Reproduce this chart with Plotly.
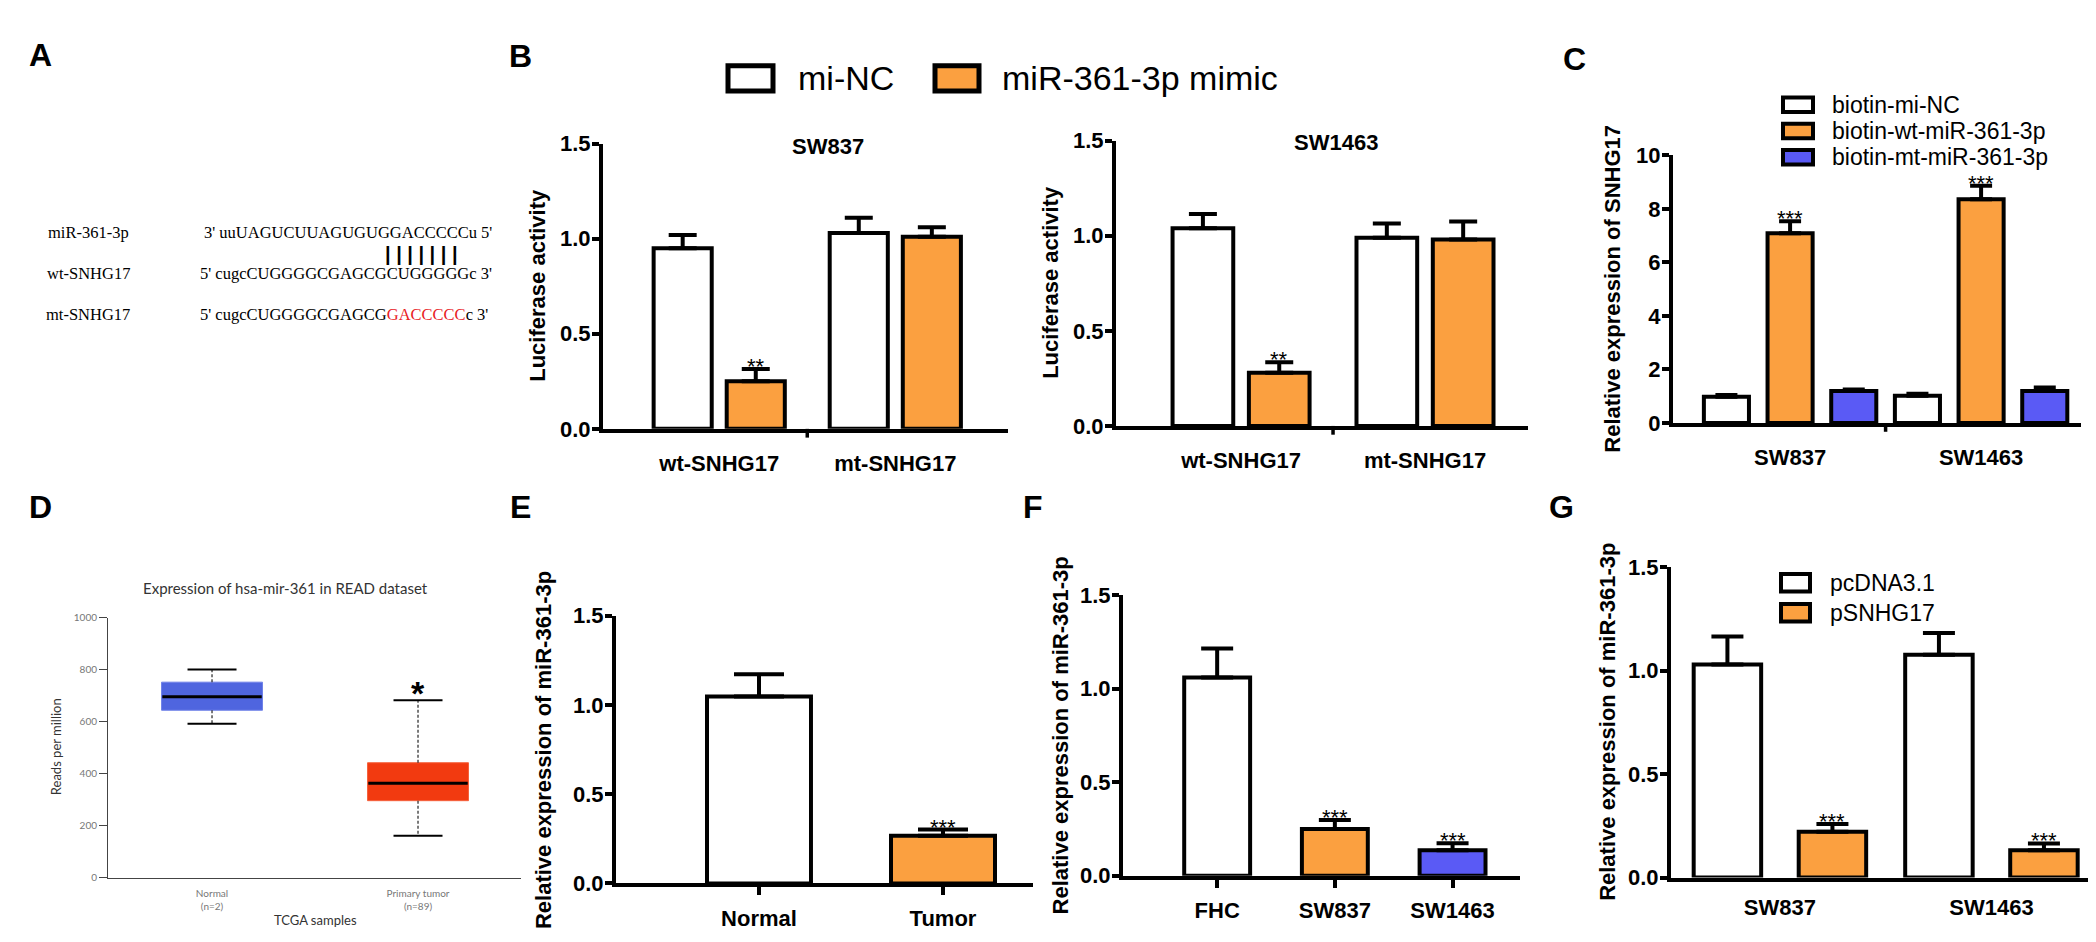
import plotly.graph_objects as go

W, H = 2096, 942
FONT = "Liberation Sans, Arial, sans-serif"
SERIF = "Liberation Serif, Times New Roman, serif"
WHITE = "#ffffff"
ORANGE = "#FBA040"
BLUE = "#5A5AF5"

# ---- data ----
# A: sequences
a_names = ["miR-361-3p", "wt-SNHG17", "mt-SNHG17"]
a_mir = "3' uuUAGUCUUAGUGUGGACCCCCu 5'"
a_wt = "5' cugcCUGGGGCGAGCGCUGGGGGc 3'"
a_mt_head, a_mt_mut, a_mt_tail = "5' cugcCUGGGGCGAGCG", "GACCCCC", "c 3'"

# B: luciferase
b_groups = ["wt-SNHG17", "mt-SNHG17"]
b_series = ["mi-NC", "miR-361-3p mimic"]
b837_nc = [0.95, 1.03]
b837_nc_err = [0.07, 0.08]
b837_mimic = [0.25, 1.01]
b837_mimic_err = [0.065, 0.05]
b837_mimic_sig = ["**", ""]
b1463_nc = [1.04, 0.99]
b1463_nc_err = [0.075, 0.075]
b1463_mimic = [0.28, 0.98]
b1463_mimic_err = [0.055, 0.095]
b1463_mimic_sig = ["**", ""]

# C: RNA pull-down
c_groups = ["SW837", "SW1463"]
c_series = ["biotin-mi-NC", "biotin-wt-miR-361-3p", "biotin-mt-miR-361-3p"]
c_nc = [0.98, 1.02]
c_nc_err = [0.07, 0.07]
c_wt = [7.09, 8.36]
c_wt_err = [0.45, 0.5]
c_wt_sig = ["***", "***"]
c_mt = [1.2, 1.2]
c_mt_err = [0.05, 0.13]

# D: TCGA box plot
d_groups = ["Normal", "Primary tumor"]
d_n = [2, 89]
d_min = [592, 161]
d_q1 = [644, 296]
d_med = [696, 363]
d_q3 = [752, 442]
d_max = [801, 682]
d_sig = ["", "*"]

# E
e_groups = ["Normal", "Tumor"]
e_mean = [1.047, 0.267]
e_err = [0.125, 0.035]
e_sig = ["", "***"]

# F
f_groups = ["FHC", "SW837", "SW1463"]
f_mean = [1.06, 0.25, 0.136]
f_err = [0.155, 0.048, 0.037]
f_sig = ["", "***", "***"]

# G
g_groups = ["SW837", "SW1463"]
g_series = ["pcDNA3.1", "pSNHG17"]
g_pc = [1.03, 1.077]
g_pc_err = [0.135, 0.105]
g_ps = [0.221, 0.132]
g_ps_err = [0.038, 0.033]
g_ps_sig = ["***", "***"]


def px(x):
    return x / W


def py(y):
    return 1 - y / H


fig = go.Figure()
annotations = []
shapes = []


def names(n):
    s = "" if n == 1 else str(n)
    return "x" + s, "y" + s


def prism_axes(n, xpix, ypix, xrange, yrange, yticks, xticks=False, fmt=".1f", standoff=12):
    xn, yn = names(n)
    fig.layout["xaxis" + xn[1:]] = dict(
        domain=[px(xpix[0]), px(xpix[1])], range=xrange, type="category",
        anchor=yn, showline=True, linecolor="black", linewidth=4,
        ticks="outside" if xticks else "", ticklen=8, tickwidth=3.5,
        tickcolor="black", ticklabelstandoff=standoff,
        tickfont=dict(family=FONT, size=22, color="black", weight="bold"),
        showgrid=False, zeroline=False, fixedrange=True)
    fig.layout["yaxis" + yn[1:]] = dict(
        domain=[py(ypix[1]), py(ypix[0])], range=yrange, anchor=xn,
        showline=True, linecolor="black", linewidth=4, tickvals=yticks,
        tickformat=fmt, ticks="outside", ticklen=7, tickwidth=3.5, tickcolor="black",
        ticklabelstandoff=-3,
        tickfont=dict(family=FONT, size=22, color="black", weight="bold"),
        showgrid=False, zeroline=False, fixedrange=True)


def mid_tick(n, xrange, ypix):
    xn, yn = names(n)
    frac = (0.5 - xrange[0]) / (xrange[1] - xrange[0])
    shapes.append(dict(type="line", xref=xn + " domain", yref=yn + " domain",
                       x0=frac, x1=frac, y0=0, y1=-9 / (ypix[1] - ypix[0]),
                       line=dict(color="black", width=3.5)))


def add_bars(n, groups, series, group_width, bar_width, cap):
    xn, yn = names(n)
    k = len(series)
    slot = group_width / k
    for j, (name, means, errs, color, sigs) in enumerate(series):
        off = -group_width / 2 + slot * j + (slot - bar_width) / 2
        fig.add_trace(go.Bar(
            x=groups, y=means, width=bar_width, offset=off, name=name,
            marker=dict(color=color, line=dict(color="black", width=4)),
            error_y=dict(type="data", array=errs, arrayminus=[0] * len(errs),
                         symmetric=False, color="black", thickness=4, width=cap),
            xaxis=xn, yaxis=yn, showlegend=False))
        for i, s in enumerate(sigs):
            if s:
                annotations.append(dict(
                    x=i + off + bar_width / 2, y=means[i] + errs[i], xref=xn, yref=yn,
                    text=s, showarrow=False, yanchor="bottom", yshift=-12,
                    font=dict(family=FONT, size=22, color="black")))


def legend(entries, bx0, bx1, rows, bh, tx, size, border):
    for (label, color), yc in zip(entries, rows):
        shapes.append(dict(type="rect", xref="paper", yref="paper",
                           x0=px(bx0), x1=px(bx1), y0=py(yc + bh / 2), y1=py(yc - bh / 2),
                           fillcolor=color, line=dict(color="black", width=border)))
        annotations.append(dict(x=px(tx), y=py(yc), xref="paper", yref="paper",
                                text=label, showarrow=False, xanchor="left", yanchor="middle",
                                font=dict(family=FONT, size=size, color="black")))


def text(x, y, s, size, bold=False, angle=0, family=FONT, color="black", xanchor="center"):
    annotations.append(dict(x=px(x), y=py(y), xref="paper", yref="paper", text=s,
                            showarrow=False, textangle=angle, xanchor=xanchor, yanchor="middle",
                            font=dict(family=family, size=size, color=color,
                                      weight="bold" if bold else "normal")))


# ---- A ----
for nm, y in zip(a_names, [218, 260, 303]):
    text(80, y, nm, 16.5, family=SERIF)
text(194, 218, a_mir, 16.5, family=SERIF, xanchor="left")
text(413, 240, "| | | | | | |", 20, bold=True)
text(190, 260, a_wt, 16.5, family=SERIF, xanchor="left")
text(190, 303, a_mt_head + "<span style='color:#E8211F'>" + a_mt_mut + "</span>" + a_mt_tail,
     16.5, family=SERIF, xanchor="left")

# ---- B ----
bl_range = [-0.66, 1.64]
prism_axes(1, (595, 1000), (127, 420), bl_range, [0, 1.5], [0, 0.5, 1.0, 1.5])
add_bars(1, b_groups, [
    (b_series[0], b837_nc, b837_nc_err, WHITE, ["", ""]),
    (b_series[1], b837_mimic, b837_mimic_err, ORANGE, b837_mimic_sig)], 0.83, 0.33, 14)
mid_tick(1, bl_range, (127, 420))
text(820, 130, "SW837", 22, bold=True)
text(530, 273, "Luciferase activity", 22, bold=True, angle=-90)

br_range = [-0.68, 1.56]
prism_axes(2, (1108, 1520), (124, 417), br_range, [0, 1.5], [0, 0.5, 1.0, 1.5])
add_bars(2, b_groups, [
    (b_series[0], b1463_nc, b1463_nc_err, WHITE, ["", ""]),
    (b_series[1], b1463_mimic, b1463_mimic_err, ORANGE, b1463_mimic_sig)], 0.83, 0.33, 14)
mid_tick(2, br_range, (124, 417))
text(1328, 126, "SW1463", 22, bold=True)
text(1043, 270, "Luciferase activity", 22, bold=True, angle=-90)
shapes.append(dict(type="rect", xref="paper", yref="paper", x0=px(720), x1=px(765),
                   y0=py(73), y1=py(47), fillcolor=WHITE, line=dict(color="black", width=5)))
shapes.append(dict(type="rect", xref="paper", yref="paper", x0=px(927), x1=px(971),
                   y0=py(73), y1=py(47), fillcolor=ORANGE, line=dict(color="black", width=5)))
text(788, 60, b_series[0], 34, xanchor="left")
text(992, 60, b_series[1], 34, xanchor="left")

# ---- C ----
c_range = [-0.613, 1.523]
prism_axes(3, (1665, 2073), (139, 414), c_range, [0, 10], [0, 2, 4, 6, 8, 10], fmt="d")
add_bars(3, c_groups, [
    (c_series[0], c_nc, c_nc_err, WHITE, ["", ""]),
    (c_series[1], c_wt, c_wt_err, ORANGE, c_wt_sig),
    (c_series[2], c_mt, c_mt_err, BLUE, ["", ""])], 1.0, 0.236, 11)
mid_tick(3, c_range, (139, 414))
text(1605, 276, "Relative expression of SNHG17", 22, bold=True, angle=-90)
legend(list(zip(c_series, [WHITE, ORANGE, BLUE])), 1775, 1805, [87, 114, 141], 15, 1822, 23, 4)

# ---- D ----
fig.layout["xaxis4"] = dict(
    domain=[px(100), px(513)], range=[-0.505, 1.5], type="category", anchor="y4",
    showline=True, linecolor="#444", linewidth=1, ticks="", tickvals=d_groups,
    ticktext=[f"{g}<br>(n={n})" for g, n in zip(d_groups, d_n)],
    ticklabelstandoff=6, tickfont=dict(family="Lato, sans-serif", size=10, color="#777"),
    showgrid=False, zeroline=False, fixedrange=True)
fig.layout["yaxis4"] = dict(
    domain=[py(881), py(614)], range=[0, 1000], anchor="x4", showline=True,
    linecolor="#444", linewidth=1, tickvals=[0, 200, 400, 600, 800, 1000],
    ticks="outside", ticklen=8, tickwidth=1, tickcolor="#444",
    tickfont=dict(family="Lato, sans-serif", size=10, color="#777"),
    showgrid=False, zeroline=False, fixedrange=True)
for i, g in enumerate(d_groups):
    fig.add_trace(go.Scatter(x=[g, g, None, g, g], y=[d_q3[i], d_max[i], None, d_q1[i], d_min[i]],
                             mode="lines", line=dict(color="#222", width=1.2, dash="3px,2px"),
                             xaxis="x4", yaxis="y4", showlegend=False))
fig.add_trace(go.Bar(x=d_groups, y=[q3 - q1 for q1, q3 in zip(d_q1, d_q3)], base=d_q1, width=0.49,
                     marker=dict(color=["#4F65DF", "#F23A10"], line=dict(color=["#6F82E8", "#F5603A"], width=1)),
                     xaxis="x4", yaxis="y4", showlegend=False))
# line-ew symbols are 1.4 x size long
fig.add_trace(go.Scatter(x=d_groups, y=d_med, mode="markers",
                         marker=dict(symbol="line-ew", size=71, line=dict(color="black", width=3)),
                         xaxis="x4", yaxis="y4", showlegend=False))
fig.add_trace(go.Scatter(x=d_groups + d_groups, y=d_max + d_min, mode="markers",
                         marker=dict(symbol="line-ew", size=35, line=dict(color="black", width=2)),
                         xaxis="x4", yaxis="y4", showlegend=False))
for i, s in enumerate(d_sig):
    if s:
        annotations.append(dict(x=i, y=d_max[i], xref="x4", yref="y4", text=s, showarrow=False,
                                yanchor="bottom", yshift=-14,
                                font=dict(family=FONT, size=34, color="black", weight="bold")))
text(277, 583, "Expression of hsa-mir-361 in READ dataset", 15, family="Lato, sans-serif", color="#333")
text(48, 747, "Reads per million", 13, family="Lato, sans-serif", color="#333", angle=-90)
text(307, 925, "TCGA samples", 13, family="Lato, sans-serif", color="#333")

# ---- E ----
prism_axes(5, (608, 1025), (612, 887), [-0.777, 1.489], [0, 1.5], [0, 0.5, 1.0, 1.5],
           xticks=True, standoff=4)
add_bars(5, e_groups, [("E", e_mean, e_err, [WHITE, ORANGE], e_sig)], 0.565, 0.565, 25)
text(535, 750, "Relative expression of miR-361-3p", 22, bold=True, angle=-90)

# ---- F ----
prism_axes(6, (1115, 1512), (591, 879), [-0.8, 2.573], [0, 1.5], [0, 0.5, 1.0, 1.5],
           xticks=True, standoff=4)
add_bars(6, f_groups, [("F", f_mean, f_err, [WHITE, ORANGE, BLUE], f_sig)], 0.56, 0.56, 16)
text(1052, 735, "Relative expression of miR-361-3p", 22, bold=True, angle=-90)

# ---- G ----
prism_axes(7, (1663, 2082), (562, 881), [-0.515, 1.466], [0, 1.5], [0, 0.5, 1.0, 1.5], standoff=7)
add_bars(7, g_groups, [
    (g_series[0], g_pc, g_pc_err, WHITE, ["", ""]),
    (g_series[1], g_ps, g_ps_err, ORANGE, g_ps_sig)], 0.993, 0.319, 16)
text(1600, 721, "Relative expression of miR-361-3p", 22, bold=True, angle=-90)
legend(list(zip(g_series, [WHITE, ORANGE])), 1773, 1802, [578, 609], 18, 1820, 23, 4)

# ---- panel letters ----
for letter, (x, y) in zip("ABCDEFG", [(32, 36), (512, 37), (1566, 40), (32, 500),
                                      (512, 500), (1025, 500), (1553, 500)]):
    text(x, y, letter, 32, bold=True)

fig.update_layout(width=W, height=H, margin=dict(l=0, r=0, t=0, b=0),
                  paper_bgcolor="white", plot_bgcolor="white", showlegend=False,
                  annotations=annotations, shapes=shapes)

fig.write_html("out.html")
